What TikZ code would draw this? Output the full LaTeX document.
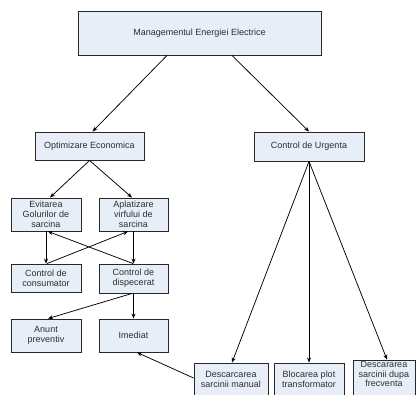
\documentclass[tikz,border=0pt]{standalone}
\usepackage{fontspec}
\setmainfont{Liberation Sans}
\usetikzlibrary{arrows.meta}
\definecolor{boxfill}{RGB}{232,238,248}
\definecolor{boxline}{RGB}{40,40,40}
\definecolor{txt}{RGB}{45,45,45}
\tikzset{
  box/.style={draw=boxline, line width=0.9pt, fill=boxfill, inner sep=0pt, align=center,
    text=txt, font=\fontsize{9}{10}\selectfont},
  conn/.style={draw=black, line width=0.75pt, -{Stealth[length=5pt,width=4pt]}},
  plain/.style={draw=black, line width=0.75pt}
}
\begin{document}
\begin{tikzpicture}[x=1pt,y=1pt]
\useasboundingbox (0,0) rectangle (417,394);
\begin{scope}
\clip (0,0) rectangle (417,394);
\node[box, minimum width=243pt, minimum height=44pt] (top) at (199.5,361) {Managementul Energiei Electrice};
\node[box, minimum width=109pt, minimum height=28pt] (opt) at (89.5,248) {Optimizare Economica};
\node[box, minimum width=110pt, minimum height=29pt] (urg) at (309,247.5) {Control de Urgenta};
\node[box, minimum width=70pt, minimum height=33pt] (evit) at (46,179.5) {Evitarea\\Golurilor de\\sarcina};
\node[box, minimum width=69pt, minimum height=33pt] (aplat) at (133.5,179.5) {Aplatizare\\virfului de\\sarcina};
\node[box, minimum width=70pt, minimum height=28pt] (cons) at (46,116) {Control de\\consumator};
\node[box, minimum width=69pt, minimum height=29pt] (disp) at (133.5,115.5) {Control de\\dispecerat};
\node[box, minimum width=70pt, minimum height=33pt] (anunt) at (46,58.5) {Anunt\\preventiv};
\node[box, minimum width=69pt, minimum height=33pt] (imed) at (133.5,58.5) {Imediat};
\node[box, minimum width=74pt, minimum height=32pt] (desc) at (231,15) {Descarcarea\\sarcinii manual};
\node[box, minimum width=70pt, minimum height=32pt] (bloc) at (309,15) {Blocarea plot\\transformator};
\node[box, minimum width=62pt, minimum height=35pt] (descar) at (384,16.5) {};
\node[text=txt, font=\fontsize{9}{9.5}\selectfont, align=center, inner sep=0pt] (descart) at (384,20) {Descararea\\sarcinii dupa\\frecventa};
\end{scope}

\draw[conn] ([xshift=-32.5pt]top.south) -- ([xshift=3pt]opt.north);
\draw[conn] ([xshift=32.5pt]top.south) -- (urg.north);
\draw[conn] (opt.south) -- ([xshift=4pt]evit.north);
\draw[conn] (opt.south) -- ([xshift=-1.5pt]aplat.north);
\draw[conn] (urg.south) -- ([xshift=1pt]desc.north);
\draw[conn] (urg.south) -- (bloc.north);
\draw[conn] (urg.south) -- ([xshift=3pt]descar.north);
\draw[conn] (evit.south) -- (cons.north);
\draw[conn] (aplat.south) -- (disp.north);
\draw[conn] ([xshift=1pt]cons.north) -- ([xshift=-5.5pt]aplat.south);
\draw[conn] ([xshift=-0.5pt]disp.north) -- ([xshift=2pt]evit.south);
\draw[conn] ([xshift=-1.5pt]disp.south) -- ([xshift=2pt]anunt.north);
\draw[conn] (disp.south) -- (imed.north);
\draw[conn] ([yshift=1pt]desc.west) -- ([xshift=3.5pt]imed.south);
\end{tikzpicture}
\end{document}
